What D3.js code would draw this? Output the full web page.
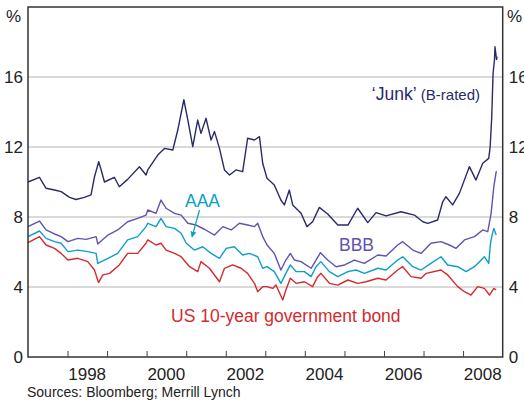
<!DOCTYPE html>
<html>
<head>
<meta charset="utf-8">
<script src="https://cdn.jsdelivr.net/npm/d3@7"></script>
<style>
  body { margin: 0; background: #fff; }
  svg { display: block; font-family: "Liberation Sans", Arial, sans-serif; }
</style>
</head>
<body>
<svg id="chart" width="524" height="402"></svg>
<script>
// bond yields, per cent
const junk = [
  ["1997-01-01", 10.0], ["1997-04-17", 10.27], ["1997-06-17", 9.64], ["1997-09-03", 9.54],
  ["1997-11-03", 9.45], ["1998-01-20", 9.12], ["1998-03-20", 9.0], ["1998-06-06", 9.12],
  ["1998-08-06", 9.26], ["1998-09-07", 10.3], ["1998-10-16", 11.16], ["1998-11-07", 10.7],
  ["1998-12-08", 10.0], ["1999-03-09", 10.27], ["1999-04-24", 9.73], ["1999-07-10", 10.15],
  ["1999-10-27", 10.87], ["1999-12-27", 10.4], ["2000-01-12", 10.69], ["2000-04-13", 11.54],
  ["2000-06-14", 11.92], ["2000-08-30", 11.83], ["2000-10-15", 12.97], ["2000-12-10", 14.7],
  ["2001-01-16", 13.54], ["2001-03-02", 12.02], ["2001-04-17", 13.54], ["2001-05-17", 12.78],
  ["2001-07-03", 13.64], ["2001-08-18", 12.4], ["2001-09-19", 12.88], ["2001-11-04", 11.92],
  ["2001-12-20", 10.69], ["2002-02-05", 10.4], ["2002-04-05", 10.69], ["2002-06-06", 10.59],
  ["2002-07-22", 12.5], ["2002-09-23", 12.4], ["2002-11-08", 12.59], ["2002-12-08", 11.07],
  ["2003-01-17", 10.21], ["2003-03-25", 9.83], ["2003-05-25", 8.97], ["2003-06-26", 8.69],
  ["2003-08-11", 9.54], ["2003-09-11", 8.69], ["2003-11-27", 8.21], ["2004-01-21", 7.45],
  ["2004-03-13", 7.73], ["2004-05-14", 8.55], ["2004-07-30", 8.17], ["2004-11-01", 7.54],
  ["2005-02-02", 7.54], ["2005-05-03", 8.5], ["2005-08-04", 7.68], ["2005-10-20", 8.25],
  ["2006-01-20", 8.06], ["2006-06-07", 8.3], ["2006-10-09", 8.11], ["2006-12-25", 7.73],
  ["2007-02-10", 7.64], ["2007-05-11", 7.83], ["2007-06-27", 8.87], ["2007-07-27", 9.16],
  ["2007-09-27", 8.69], ["2007-11-28", 9.35], ["2008-02-29", 10.88], ["2008-04-29", 10.11],
  ["2008-07-01", 11.07], ["2008-08-25", 11.35], ["2008-09-07", 12.0], ["2008-09-22", 13.73],
  ["2008-10-04", 16.2], ["2008-10-17", 16.97], ["2008-10-22", 17.73], ["2008-11-05", 17.0],
  ["2008-11-10", 17.16]
]

const bbb = [
  ["1997-01-01", 7.45], ["1997-04-17", 7.77], ["1997-06-17", 7.26], ["1997-09-03", 7.03],
  ["1997-11-03", 6.88], ["1998-01-05", 6.59], ["1998-04-06", 6.78], ["1998-06-21", 6.72],
  ["1998-09-22", 6.88], ["1998-10-07", 6.46], ["1999-01-09", 6.97], ["1999-04-09", 7.26],
  ["1999-07-10", 7.73], ["1999-10-11", 7.92], ["1999-12-27", 8.11], ["2000-01-12", 8.4],
  ["2000-03-28", 8.21], ["2000-05-13", 8.97], ["2000-06-29", 8.5], ["2000-09-15", 8.21],
  ["2000-11-15", 8.11], ["2001-01-16", 7.64], ["2001-04-02", 7.54], ["2001-06-18", 7.3],
  ["2001-09-19", 6.97], ["2001-12-05", 7.45], ["2002-02-20", 7.26], ["2002-05-07", 7.64],
  ["2002-07-22", 7.54], ["2002-09-23", 7.45], ["2002-10-23", 7.64], ["2002-12-08", 6.88],
  ["2003-01-17", 6.4], ["2003-03-25", 5.92], ["2003-05-25", 4.97], ["2003-07-10", 5.54],
  ["2003-08-20", 5.92], ["2003-09-27", 5.54], ["2003-11-27", 5.45], ["2004-02-28", 5.07],
  ["2004-04-13", 5.54], ["2004-05-24", 5.96], ["2004-07-30", 5.54], ["2004-10-16", 5.16],
  ["2005-01-02", 5.26], ["2005-04-03", 5.54], ["2005-07-04", 5.35], ["2005-11-05", 5.83],
  ["2006-01-20", 5.77], ["2006-05-07", 6.4], ["2006-06-23", 6.59], ["2006-09-24", 6.11],
  ["2006-12-09", 5.92], ["2007-03-10", 6.5], ["2007-06-11", 6.59], ["2007-08-28", 6.4],
  ["2007-10-28", 6.21], ["2008-01-14", 6.69], ["2008-04-15", 6.88], ["2008-07-01", 7.26],
  ["2008-08-16", 7.16], ["2008-09-16", 8.21], ["2008-10-11", 9.73], ["2008-11-02", 10.59],
  ["2008-11-08", 10.6]
]

const aaa = [
  ["1997-01-01", 6.88], ["1997-04-17", 7.2], ["1997-06-17", 6.78], ["1997-09-03", 6.59],
  ["1997-11-03", 6.5], ["1998-01-05", 6.02], ["1998-04-06", 6.11], ["1998-07-07", 6.02],
  ["1998-09-22", 5.92], ["1998-10-07", 5.35], ["1999-01-09", 5.64], ["1999-04-09", 5.92],
  ["1999-07-10", 6.69], ["1999-10-11", 6.88], ["1999-12-27", 7.45], ["2000-01-12", 7.64],
  ["2000-03-28", 7.45], ["2000-05-13", 7.92], ["2000-06-29", 7.45], ["2000-09-15", 7.35],
  ["2000-11-15", 7.07], ["2001-01-01", 6.5], ["2001-03-17", 6.11], ["2001-06-02", 6.3],
  ["2001-08-18", 5.92], ["2001-11-04", 5.64], ["2002-01-05", 6.21], ["2002-03-21", 6.3],
  ["2002-06-06", 5.83], ["2002-08-07", 5.92], ["2002-10-23", 5.73], ["2002-12-08", 5.07],
  ["2003-01-17", 5.16], ["2003-03-25", 4.88], ["2003-05-25", 4.21], ["2003-07-10", 4.78],
  ["2003-08-20", 5.26], ["2003-10-12", 4.88], ["2003-12-28", 4.88], ["2004-02-28", 4.59],
  ["2004-04-13", 5.16], ["2004-05-29", 5.45], ["2004-08-15", 4.88], ["2004-11-01", 4.59],
  ["2005-02-02", 4.88], ["2005-04-18", 4.97], ["2005-07-04", 4.78], ["2005-11-05", 5.07],
  ["2006-01-20", 4.97], ["2006-05-07", 5.54], ["2006-06-23", 5.73], ["2006-09-24", 5.16],
  ["2006-12-09", 4.97], ["2007-03-10", 5.35], ["2007-06-11", 5.73], ["2007-08-12", 5.26],
  ["2007-11-13", 5.16], ["2008-01-29", 4.88], ["2008-04-15", 5.16], ["2008-07-16", 5.73],
  ["2008-08-25", 5.35], ["2008-09-10", 6.5], ["2008-09-22", 6.88], ["2008-10-11", 7.35],
  ["2008-11-02", 6.97]
]

const us10y = [
  ["1997-01-01", 6.53], ["1997-04-17", 6.88], ["1997-06-17", 6.4], ["1997-09-03", 6.21],
  ["1997-11-03", 5.92], ["1998-01-05", 5.54], ["1998-04-06", 5.64], ["1998-07-07", 5.45],
  ["1998-09-07", 4.97], ["1998-10-14", 4.25], ["1998-11-23", 4.69], ["1999-01-24", 4.78],
  ["1999-04-24", 5.26], ["1999-07-10", 5.92], ["1999-10-11", 5.92], ["1999-12-27", 6.5],
  ["2000-01-12", 6.69], ["2000-03-28", 6.4], ["2000-05-13", 6.5], ["2000-06-29", 6.11],
  ["2000-09-15", 5.92], ["2000-11-15", 5.73], ["2001-02-01", 5.16], ["2001-04-17", 4.88],
  ["2001-05-17", 5.45], ["2001-08-03", 5.07], ["2001-11-04", 4.3], ["2001-12-20", 5.07],
  ["2002-03-06", 5.26], ["2002-05-22", 5.07], ["2002-07-22", 4.78], ["2002-09-23", 4.21],
  ["2002-10-23", 3.73], ["2002-12-08", 4.02], ["2003-01-17", 4.02], ["2003-03-10", 3.92],
  ["2003-04-10", 4.11], ["2003-06-11", 3.26], ["2003-07-10", 3.83], ["2003-08-20", 4.5],
  ["2003-10-12", 4.21], ["2003-12-28", 4.3], ["2004-03-13", 4.02], ["2004-04-29", 4.59],
  ["2004-05-29", 4.78], ["2004-08-15", 4.21], ["2004-11-01", 4.11], ["2005-02-02", 4.4],
  ["2005-05-03", 4.21], ["2005-07-19", 4.3], ["2005-11-05", 4.5], ["2006-01-20", 4.4],
  ["2006-05-07", 4.97], ["2006-06-23", 5.16], ["2006-09-08", 4.59], ["2006-12-09", 4.5],
  ["2007-01-26", 4.78], ["2007-06-11", 4.97], ["2007-08-12", 4.69], ["2007-11-13", 4.02],
  ["2008-01-14", 3.73], ["2008-03-14", 3.54], ["2008-05-15", 4.02], ["2008-07-16", 3.92],
  ["2008-09-01", 3.54], ["2008-10-11", 3.92], ["2008-11-02", 3.83]
]

const yTicks = [0, 4, 8, 12, 16]
const yearTicks = [1998, 1999, 2000, 2001, 2002, 2003, 2004, 2005, 2006, 2007, 2008]
const yearLabels = [1998, 2000, 2002, 2004, 2006, 2008]

/*
SCALES
*/

const parse = d3.timeParse('%Y-%m-%d')
const plot = { left: 28, right: 502.7, top: 7, bottom: 357 }

const x = d3.scaleTime()
  .domain([new Date(1997, 0, 1), new Date(2009, 0, 1)])
  .range([plot.left, plot.right])
const y = d3.scaleLinear()
  .domain([0, 20])
  .range([plot.bottom, plot.top])

const svg = d3.select('#chart')

// gridlines
svg.append('g')
  .selectAll('line')
  .data(yTicks.filter(d => d > 0))
  .enter()
  .append('line')
  .attr('x1', plot.left)
  .attr('x2', plot.right)
  .attr('y1', d => y(d))
  .attr('y2', d => y(d))
  .attr('stroke', '#b4b4b4')
  .attr('stroke-width', 1)

/*
LINES
*/

const line = d3.line()
  .x(d => x(parse(d[0])))
  .y(d => y(d[1]))

const series = [
  { data: us10y, color: '#d42a2f' },
  { data: aaa, color: '#0b9fc9' },
  { data: bbb, color: '#6152ae' },
  { data: junk, color: '#2a2a6a' }
]

svg.append('g')
  .selectAll('path')
  .data(series)
  .enter()
  .append('path')
  .attr('d', d => line(d.data))
  .attr('fill', 'none')
  .attr('stroke', d => d.color)
  .attr('stroke-width', 1.4)
  .attr('stroke-linejoin', 'round')

/*
FRAME AND AXES
*/

svg.append('rect')
  .attr('x', plot.left)
  .attr('y', plot.top)
  .attr('width', plot.right - plot.left)
  .attr('height', plot.bottom - plot.top)
  .attr('fill', 'none')
  .attr('stroke', '#333')
  .attr('stroke-width', 1.5)

const xAxis = d3.axisBottom(x)
  .tickValues(yearTicks.map(yr => new Date(yr, 0, 1)))
  .tickSize(-6)
  .tickFormat('')
svg.append('g')
  .attr('transform', `translate(0,${plot.bottom})`)
  .call(xAxis)
  .call(g => g.select('.domain').remove())
  .call(g => g.selectAll('line').attr('stroke', '#444'))

svg.append('g')
  .selectAll('text')
  .data(yearLabels)
  .enter()
  .append('text')
  .attr('x', d => x(new Date(d, 6, 1)))
  .attr('y', 380)
  .attr('text-anchor', 'middle')
  .attr('font-size', 17)
  .attr('fill', '#222')
  .text(d => d)

const yLeft = d3.axisLeft(y).tickValues(yTicks).tickSize(0).tickPadding(5)
const yRight = d3.axisRight(y).tickValues(yTicks).tickSize(0).tickPadding(6)

svg.append('g')
  .attr('transform', `translate(${plot.left},0)`)
  .call(yLeft)
  .call(g => g.select('.domain').remove())
  .call(g => g.selectAll('text').attr('font-size', 17).attr('fill', '#222'))
  .attr('font-family', null)

svg.append('g')
  .attr('transform', `translate(${plot.right},0)`)
  .call(yRight)
  .call(g => g.select('.domain').remove())
  .call(g => g.selectAll('text').attr('font-size', 17).attr('fill', '#222'))
  .attr('font-family', null)

svg.append('text').attr('x', 6).attr('y', 22).attr('font-size', 17).attr('fill', '#222').text('%')
svg.append('text').attr('x', 507).attr('y', 22).attr('font-size', 17).attr('fill', '#222').text('%')

/*
LABELS
*/

const junkLabel = svg.append('text')
  .attr('x', 480)
  .attr('y', 100)
  .attr('text-anchor', 'end')
  .attr('fill', '#2a2a6a')
junkLabel.append('tspan').attr('font-size', 17.5).text('\u2018Junk\u2019 ')
junkLabel.append('tspan').attr('font-size', 15).text('(B-rated)')

svg.append('text')
  .attr('x', 185)
  .attr('y', 207)
  .attr('font-size', 17.5)
  .attr('fill', '#0b9fc9')
  .text('AAA')

svg.append('defs')
  .append('marker')
  .attr('id', 'arrow')
  .attr('viewBox', '0 0 10 10')
  .attr('refX', 9)
  .attr('refY', 5)
  .attr('markerWidth', 5)
  .attr('markerHeight', 5)
  .attr('orient', 'auto')
  .append('path')
  .attr('d', 'M0,0L10,5L0,10z')
  .attr('fill', '#0b9fc9')

svg.append('line')
  .attr('x1', 199.5)
  .attr('y1', 210)
  .attr('x2', 192)
  .attr('y2', 237)
  .attr('stroke', '#0b9fc9')
  .attr('stroke-width', 1.2)
  .attr('marker-end', 'url(#arrow)')

svg.append('text')
  .attr('x', 339)
  .attr('y', 251)
  .attr('font-size', 17.5)
  .attr('fill', '#6152ae')
  .text('BBB')

svg.append('text')
  .attr('x', 171)
  .attr('y', 322)
  .attr('font-size', 17.5)
  .attr('fill', '#d42a2f')
  .text('US 10-year government bond')

svg.append('text')
  .attr('x', 27)
  .attr('y', 397)
  .attr('font-size', 14)
  .attr('fill', '#222')
  .text('Sources: Bloomberg; Merrill Lynch')
</script>
</body>
</html>
